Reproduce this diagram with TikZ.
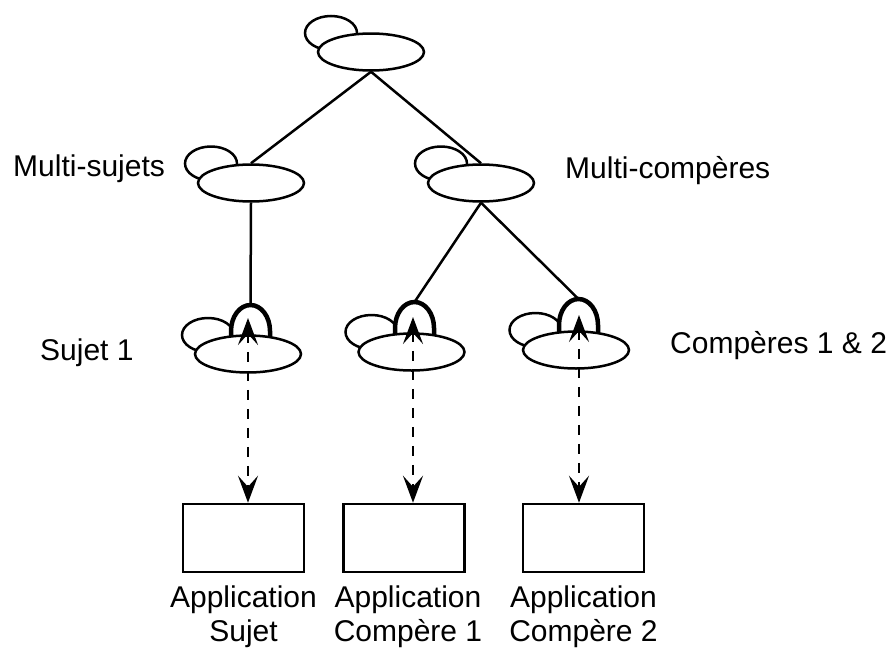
\documentclass[tikz,border=0pt]{standalone}
\usepackage{fontspec}
\setmainfont{Liberation Sans}
\usepackage{tikz}
\usetikzlibrary{arrows.meta, positioning, shapes.geometric}
\newcommand{\lblfont}{\fontsize{30}{34}\selectfont}
\tikzset{
  agbig/.style={ellipse,draw,line width=2.5pt,fill=white,minimum width=106pt,minimum height=37pt,inner sep=0pt},
  agsmall/.style={agbig,minimum width=52pt,minimum height=34pt},
  handle/.style={line width=4.5pt,fill=white},
  appbox/.style={rectangle,draw,line width=2.5pt,minimum width=121pt,minimum height=68pt,inner sep=0pt},
  treeedge/.style={line width=2.5pt},
  msgedge/.style={<->,>={Stealth[length=27pt,width=20pt,inset=11pt]},line width=2.5pt,dash pattern=on 10pt off 9pt},
  lbl/.style={inner sep=0pt,font=\lblfont},
}

\begin{document}
\begin{tikzpicture}[x=1pt,y=-1pt]
  \useasboundingbox (0,0) rectangle (893,648);
  % small ellipses behind
  \node[agsmall] (sTop) at (331,33) {};
  \node[agsmall] (sMS) at (211,163.5) {};
  \node[agsmall] (sMC) at (441,163.5) {};
  \node[agsmall] (sS) at (208,335) {};
  \node[agsmall] (sC1) at (371.5,332) {};
  \node[agsmall] (sC2) at (535.5,330) {};
  % handles
  \coordinate (hS) at (250.5,305);
  \coordinate (hC1) at (414.5,302);
  \coordinate (hC2) at (578.5,299);
  \foreach \h in {hS,hC1,hC2}
    \draw[handle] (\h) ++(-19.5,36) -- ++(0,-10) arc[start angle=180,end angle=0,x radius=19.5pt,y radius=26pt] -- ++(0,10);
  % agents
  \node[agbig] (nTop) at (371,52) {};
  \node[agbig] (nMS) at (251,183) {};
  \node[agbig] (nMC) at (481,183) {};
  \node[agbig] (nS) at (248,354) {};
  \node[agbig] (nC1) at (411.5,352) {};
  \node[agbig] (nC2) at (576,350) {};
  % applications
  \node[appbox] (bS) at (243.5,538) {};
  \node[appbox] (bC1) at (404,538) {};
  \node[appbox] (bC2) at (583.5,538) {};
  \draw[treeedge] (nTop.south) -- (nMS.north);
  \draw[treeedge] (nTop.south) -- (nMC.north);
  \draw[treeedge] (nMS.south) -- (hS);
  \draw[treeedge] (nMC.south) -- (hC1);
  \draw[treeedge] (nMC.south) -- (hC2);
  \coordinate (tS) at (248,318);
  \coordinate (tC1) at (413,317);
  \coordinate (tC2) at (579,315);
  \draw[msgedge] (tS) -- (tS |- bS.north);
  \draw[msgedge] (tC1) -- (tC1 |- bC1.north);
  \draw[msgedge] (tC2) -- (tC2 |- bC2.north);
  % labels
  \node[lbl,anchor=base west] (lMS) at (13,176) {Multi-sujets};
  \node[lbl,anchor=base west] (lMC) at (565,178) {Multi-compères};
  \node[lbl,anchor=base west] (lS) at (40,360) {Sujet 1};
  \node[lbl,anchor=base west] (lC) at (670,353) {Compères 1 \& 2};
  \node[lbl,align=center,below=12pt of bS] (lbS) {Application\\Sujet};
  \node[lbl,align=center,below=12pt of bC1,xshift=4pt] (lbC1) {Application\\Compère 1};
  \node[lbl,align=center,below=12pt of bC2] (lbC2) {Application\\Compère 2};
\end{tikzpicture}
\end{document}
